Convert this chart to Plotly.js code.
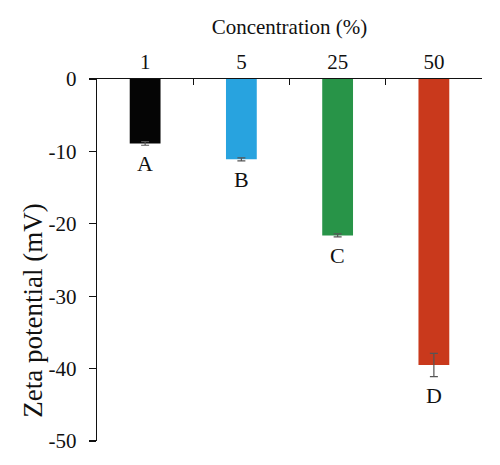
<!DOCTYPE html>
<html>
<head>
<meta charset="utf-8">
<script src="https://cdn.plot.ly/plotly-3.0.1.min.js"></script>
<style>html,body{margin:0;padding:0;background:#fff;}#chart{width:500px;height:465px;}</style>
</head>
<body>
<div id="chart"></div>
<script>
const categories = ['1', '5', '25', '50'];
const zeta = [-8.9, -11.1, -21.6, -39.5];
const errors = [0.25, 0.2, 0.2, 1.6];
const letters = ['A', 'B', 'C', 'D'];
const barColors = ['#050505', '#28A3DF', '#289448', '#C9391C'];
const yTicks = [0, -10, -20, -30, -40, -50];
const xTitle = 'Concentration (%)';
const yTitle = 'Zeta potential (mV)';

const font = "'Liberation Serif', 'Times New Roman', serif";

const trace = {
  type: 'bar',
  x: categories,
  y: zeta,
  width: 0.32,
  marker: {color: barColors, line: {width: 0}},
  error_y: {type: 'data', array: errors, visible: true, color: '#555555', thickness: 1.2, width: 4},
  hoverinfo: 'none'
};

const annotations = categories.map((c, i) => ({
  x: i, y: zeta[i] - errors[i], xref: 'x', yref: 'y',
  text: letters[i], showarrow: false, yanchor: 'top', yshift: -4,
  font: {family: font, size: 22, color: '#111'}
}));
annotations.push({
  x: -0.166, y: 0.36, xref: 'paper', yref: 'paper',
  xanchor: 'center', yanchor: 'middle', textangle: -90,
  text: yTitle, showarrow: false,
  font: {family: font, size: 27, color: '#111'}
});

const layout = {
  width: 500, height: 465,
  margin: {l: 97, r: 18, t: 79, b: 24},
  paper_bgcolor: '#fff', plot_bgcolor: '#fff',
  showlegend: false,
  font: {family: font, size: 21, color: '#111'},
  xaxis: {
    type: 'category', side: 'top', range: [-0.5, 3.5],
    showline: true, linecolor: '#111', linewidth: 1.3,
    ticks: 'inside', tickson: 'boundaries', ticklen: 6, tickwidth: 1.3, tickcolor: '#111',
    showgrid: false, zeroline: false,
    tickfont: {family: font, size: 21, color: '#111'},
    title: {text: xTitle, font: {family: font, size: 21, color: '#111'}, standoff: 10}
  },
  yaxis: {
    range: [-50, 0], tickvals: yTicks, ticktext: yTicks.map(String),
    showline: true, linecolor: '#111', linewidth: 1.3,
    ticks: 'outside', ticklen: 7, tickwidth: 1.3, tickcolor: '#111',
    ticklabelstandoff: 8,
    showgrid: false, zeroline: false,
    tickfont: {family: font, size: 21, color: '#111'}
  },
  annotations: annotations
};

Plotly.newPlot('chart', [trace], layout, {displayModeBar: false, staticPlot: true});
</script>
</body>
</html>
